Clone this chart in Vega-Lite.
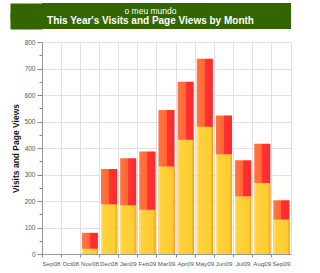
{
  "$schema": "https://vega.github.io/schema/vega-lite/v6.json",
  "padding": {"left": 2, "top": 3, "right": 5, "bottom": 0},
  "background": "white",
  "spacing": 9,
  "config": {"font": "Liberation Sans"},
  "vconcat": [
    {
      "width": 249,
      "height": 26,
      "view": {"fill": "#336600", "stroke": null},
      "encoding": {
        "y": {"field": "line", "type": "nominal",
              "scale": {"domain": ["o meu mundo", "This Year's Visits and Page Views by Month"], "padding": 0.8},
              "axis": {"title": null, "labels": false, "domain": false, "grid": false,
                       "ticks": true, "tickSize": 32, "tickWidth": 16, "tickCap": "butt",
                       "tickColor": "#336600", "tickOpacity": 1}},
        "text": {"field": "line"}
      },
      "layer": [
        {"data": {"values": [{"line": "o meu mundo"}]},
         "mark": {"type": "text", "color": "white", "fontSize": 8.5, "dx": -16, "font": "Liberation Sans"}},
        {"data": {"values": [{"line": "This Year's Visits and Page Views by Month"}]},
         "mark": {"type": "text", "color": "white", "fontSize": 10, "dx": -16, "fontWeight": "bold", "font": "Liberation Sans"}}
      ]
    },
    {
      "width": 249,
      "height": 212,
      "view": {"stroke": "#dddddd"},
      "data": {"values": [
        {"month": "Sep08", "visits": 0, "pageviews": 0},
        {"month": "Oct08", "visits": 0, "pageviews": 0},
        {"month": "Nov08", "visits": 20, "pageviews": 80},
        {"month": "Dec08", "visits": 188, "pageviews": 321},
        {"month": "Jan09", "visits": 184, "pageviews": 361},
        {"month": "Feb09", "visits": 167, "pageviews": 387},
        {"month": "Mar09", "visits": 330, "pageviews": 543},
        {"month": "Apr09", "visits": 431, "pageviews": 650},
        {"month": "May09", "visits": 480, "pageviews": 737},
        {"month": "Jun09", "visits": 376, "pageviews": 523},
        {"month": "Jul09", "visits": 218, "pageviews": 354},
        {"month": "Aug09", "visits": 268, "pageviews": 416},
        {"month": "Sep09", "visits": 130, "pageviews": 203}
      ]},
      "encoding": {
        "x": {"field": "month", "type": "nominal", "sort": null,
              "scale": {"paddingInner": 0, "paddingOuter": 0},
              "axis": {"title": null, "labelAngle": 0, "labelFontSize": 6.2, "labelColor": "#555555",
                       "bandPosition": 0, "grid": true, "gridColor": "#e0e0e0",
                       "tickSize": 3, "tickColor": "#888888", "domainColor": "#999999",
                       "labelPadding": 3, "labelOverlap": false}}
      },
      "layer": [
        {
          "mark": {"type": "bar", "width": {"band": 0.84},
                   "color": {"gradient": "linear", "x1": 0, "x2": 1, "y1": 0, "y2": 0,
                             "stops": [{"offset": 0, "color": "#ff7744"}, {"offset": 0.5, "color": "#ff6633"},
                                       {"offset": 0.5, "color": "#ff3333"}, {"offset": 1, "color": "#ff2a2a"}]}},
          "encoding": {
            "y": {"field": "pageviews", "type": "quantitative",
                  "scale": {"domain": [0, 800], "nice": false},
                  "axis": {"title": "Visits and Page Views", "titleFontSize": 8.5, "titleFontWeight": "bold",
                           "titleColor": "#111111", "titlePadding": 4,
                           "values": [0, 50, 100, 150, 200, 250, 300, 350, 400, 450, 500, 550, 600, 650, 700, 750, 800],
                           "labelExpr": "datum.value % 100 === 0 ? datum.label : ''",
                           "labelOverlap": false,
                           "labelFontSize": 6.5, "labelColor": "#555555", "labelPadding": 2,
                           "tickSize": {"condition": {"test": "datum.value % 100 === 0", "value": 5}, "value": 3},
                           "tickColor": "#888888", "domainColor": "#999999",
                           "grid": true, "gridColor": "#e0e0e0",
                           "gridOpacity": {"condition": {"test": "datum.value % 100 === 0", "value": 1}, "value": 0}}}
          }
        },
        {
          "mark": {"type": "bar", "width": {"band": 0.84},
                   "color": {"gradient": "linear", "x1": 0, "x2": 1, "y1": 0, "y2": 0,
                             "stops": [{"offset": 0, "color": "#ffee88"}, {"offset": 0.12, "color": "#ffd23c"},
                                       {"offset": 0.85, "color": "#ffcc33"}, {"offset": 1, "color": "#f5a800"}]}},
          "encoding": {
            "y": {"field": "visits", "type": "quantitative",
                  "axis": {"title": "Visits and Page Views", "titleFontSize": 8.5, "titleFontWeight": "bold",
                           "titleColor": "#111111", "titlePadding": 4,
                           "values": [0, 50, 100, 150, 200, 250, 300, 350, 400, 450, 500, 550, 600, 650, 700, 750, 800],
                           "labelExpr": "datum.value % 100 === 0 ? datum.label : ''",
                           "labelOverlap": false,
                           "labelFontSize": 6.5, "labelColor": "#555555", "labelPadding": 2,
                           "tickSize": {"condition": {"test": "datum.value % 100 === 0", "value": 5}, "value": 3},
                           "tickColor": "#888888", "domainColor": "#999999",
                           "grid": true, "gridColor": "#e0e0e0",
                           "gridOpacity": {"condition": {"test": "datum.value % 100 === 0", "value": 1}, "value": 0}}}
          }
        }
      ]
    }
  ]
}
